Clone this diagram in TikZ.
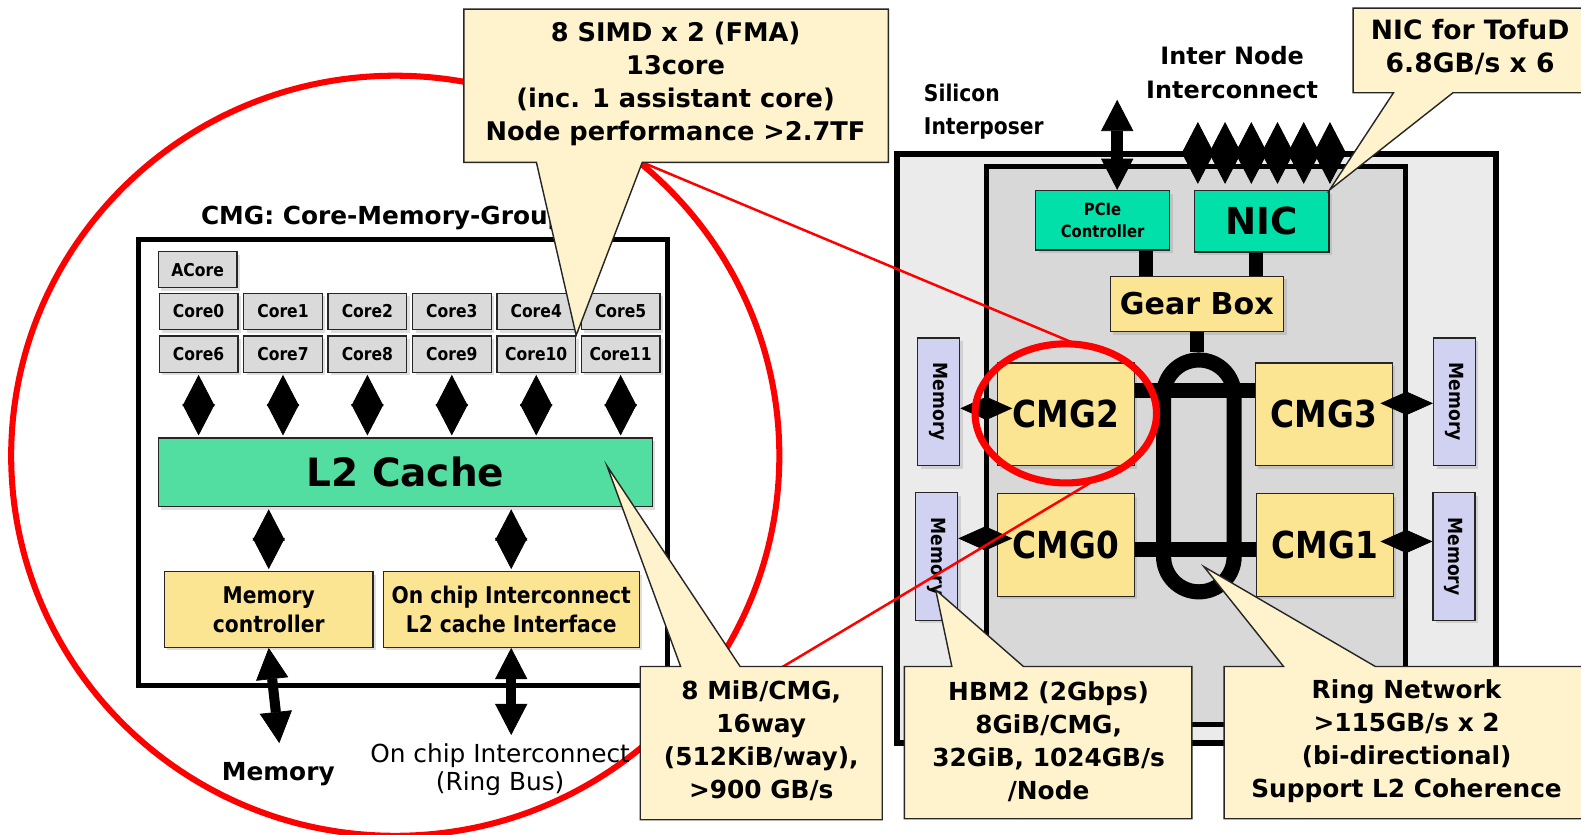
\documentclass[tikz,border=0pt]{standalone}
\usepackage{fontspec,graphicx}
\setmainfont{DejaVu Sans}
\newfontfamily\condfont{DejaVu Sans}[FakeStretch=0.88]
\usetikzlibrary{matrix, fit, arrows.meta, shadows}
\definecolor{corefill}{HTML}{DADADA}
\definecolor{l2fill}{HTML}{52DEA0}
\definecolor{nicfill}{HTML}{00E0A8}
\definecolor{yelfill}{HTML}{FCE592}
\definecolor{callfill}{HTML}{FEF3CC}
\definecolor{memfill}{HTML}{D1D1F1}
\definecolor{outfill}{HTML}{EBEBEB}
\definecolor{infill}{HTML}{D8D8D8}

\begin{document}
\begin{tikzpicture}[x=0.02cm, y=-0.02cm,
            dtip/.tip={Triangle[length=6.2mm, width=6.4mm, line width=0.4pt]},
            stip/.tip={Triangle[length=5.2mm, width=4.6mm, line width=0.4pt]},
            box/.style={draw=black!85, line width=0.7pt, inner sep=0pt, drop shadow={shadow xshift=0.6mm, shadow yshift=-0.6mm, opacity=0.25}},
            corebox/.style={box, fill=corefill, minimum width=15.6mm, minimum height=7.2mm, font=\condfont\bfseries\fontsize{10}{12}\selectfont},
            yelbox/.style={box, fill=yelfill, align=center},
            cmgbox/.style={yelbox, minimum width=27.2mm, minimum height=20.4mm, font=\condfont\bfseries\fontsize{21}{25}\selectfont},
            membox/.style={box, fill=memfill, minimum width=8.3mm, minimum height=25.3mm, font=\condfont\bfseries\fontsize{11}{13}\selectfont},
            diam/.style={line width=0.8pt, shorten <=0.4mm, shorten >=0.4mm, dtip-dtip},
            smalldiam/.style={line width=0.8pt, stip-stip},
            fatarr/.style={line width=2mm, dtip-dtip},
            bar/.style={line width=3mm},
            frame/.style={draw=black, line width=1mm},
            call/.style={draw=black!85, line width=0.8pt, fill=callfill},
            calltxt/.style={align=center, font=\bfseries\fontsize{14}{18.7}\selectfont},
            redline/.style={draw=red, line width=1.4pt}
            ]
            \clip (0,0) rectangle (1568,828);
            \fill[white] (0,0) rectangle (1568,828);
            \draw[red, line width=1.2mm] (392,452) ellipse [x radius=7.62cm, y radius=7.54cm];

            \draw[frame] (137,238) rectangle (662,680);
            \node[anchor=west, inner sep=0pt, font=\bfseries\fontsize{14}{17}\selectfont] (title) at (199,216) {CMG: Core-Memory-Group};
            \node[corebox] (acore) at (196,267.5) {ACore};
            \matrix [matrix of nodes, nodes={corebox}, column sep=0.9mm, row sep=1mm, anchor=north west, inner sep=0pt] (cores) at (157,290)
            {
                Core0 & Core1 & Core2 & Core3 & Core4 & Core5\\
                Core6 & Core7 & Core8 & Core9 & Core10 & Core11\\
            };
            \node[box, fill=l2fill, minimum width=98mm, minimum height=13.6mm, font=\bfseries\fontsize{22}{26}\selectfont] (l2) at (402,468.5) {L2 Cache};
            \node[yelbox, minimum width=41.4mm, minimum height=15mm, font=\condfont\bfseries\fontsize{13}{16.4}\selectfont] (memctl) at (266.5,604.5) {Memory\\controller};
            \node[yelbox, minimum width=50.8mm, minimum height=15mm, font=\condfont\bfseries\fontsize{13}{16.4}\selectfont] (onchip) at (507,604.5) {On chip Interconnect\\L2 cache Interface};
            \foreach \c in {1,...,6}
                \draw[diam] (cores-2-\c.south) -- (cores-2-\c.south |- l2.north);
            \draw[diam] (memctl.north |- l2.south) -- (memctl.north);
            \draw[diam] (onchip.north |- l2.south) -- (onchip.north);
            \node[font=\bfseries\fontsize{14}{17}\selectfont] (memlbl) at (276,768) {Memory};
            \node[align=center, font=\fontsize{14}{16}\selectfont] (ringlbl) at (496,763) {On chip Interconnect\\(Ring Bus)};
            \coordinate (memout) at (277,737);
            \coordinate (ringout) at (507,729);
            \draw[fatarr] (memctl.south) -- (memout);
            \draw[fatarr] (onchip.south) -- (onchip.south |- ringout);

            \draw[frame, fill=outfill, line width=1.2mm] (890,153) rectangle (1484,737);
            \draw[frame, fill=infill] (978,165) rectangle (1394,719);
            \node[anchor=west, align=left, inner sep=0pt, font=\condfont\bfseries\fontsize{13}{18.7}\selectfont] (silicon) at (916,111) {Silicon\\Interposer};
            \node[align=center, font=\bfseries\fontsize{13.5}{19.3}\selectfont] (inode) at (1222,72) {Inter Node\\Interconnect};
            \node[box, fill=nicfill, align=center, minimum width=26.6mm, minimum height=11.8mm, font=\condfont\bfseries\fontsize{9.5}{12}\selectfont] (pcie) at (1093.5,218.5) {PCIe\\Controller};
            \node[box, fill=nicfill, minimum width=26.6mm, minimum height=12.2mm, font=\bfseries\fontsize{21}{25}\selectfont] (nic) at (1251.5,219.5) {NIC};
            \node[yelbox, minimum width=34.4mm, minimum height=11mm, font=\bfseries\fontsize{17}{20}\selectfont] (gear) at (1187,301.5) {Gear Box};
            \node[draw, line width=3mm, rounded corners=7mm, minimum width=14mm, minimum height=46mm, inner sep=0pt] (ring) at (1189,472) {};
            \coordinate (pstem) at (1137,0);
            \coordinate (nstem) at (1246,0);
            \draw[line width=2.8mm] (pcie.south -| pstem) -- (gear.north -| pstem);
            \draw[line width=2.8mm] (nic.south -| nstem) -- (gear.north -| nstem);
            \draw[line width=2.8mm] (gear.south) -- (gear.south |- ring.north);
            \node[cmgbox] (cmg2) at (1057,411) {CMG2};
            \node[cmgbox] (cmg3) at (1313,411) {CMG3};
            \node[cmgbox] (cmg0) at (1057,540.5) {CMG0};
            \node[cmgbox] (cmg1) at (1314,540.5) {CMG1};
            \draw[bar] ([yshift=4.8mm]cmg2.east) -- ([yshift=4.8mm]cmg3.west);
            \draw[bar] ([yshift=-0.9mm]cmg0.east) -- ([yshift=-0.9mm]cmg1.west);
            \node[membox] (memA) at (931,398.5) {\rotatebox{-90}{Memory}};
            \node[membox] (memB) at (929,552) {\rotatebox{-90}{Memory}};
            \node[membox] (memC) at (1442.5,398.5) {\rotatebox{-90}{Memory}};
            \node[membox] (memD) at (1442,552) {\rotatebox{-90}{Memory}};
            \coordinate (pa) at (1004,405);
            \coordinate (pb) at (1004,534);
            \coordinate (pc) at (1369,400);
            \coordinate (pd) at (1369,537);
            \draw[smalldiam] (memA.east |- pa) -- (pa);
            \draw[smalldiam] (memB.east |- pb) -- (pb);
            \draw[smalldiam] (memC.west |- pc) -- (pc);
            \draw[smalldiam] (memD.west |- pd) -- (pd);
            \coordinate (pcieup) at (1108,99);
            \draw[fatarr, line width=2.4mm] (pcie.north -| pcieup) -- (pcieup);
            \foreach \x [count=\i] in {1188,1215,1241,1267,1293,1319} {
                \coordinate (link\i) at (\x,121);
                \draw[diam, shorten <=1.2mm, shorten >=0pt] (nic.north -| link\i) -- (link\i);
            }

            \draw[red, line width=1.4mm] (1057,410) ellipse [x radius=1.8cm, y radius=1.38cm];
            \draw[redline] (637,161) -- (1062,339);
            \draw[redline] (740,683) -- (1081,479);

            \draw[call] (460,9) -- (881,9) -- (881,161) -- (637,161) -- (cores-2-5.north east) -- (532,161) -- (460,161) -- cycle;
            \node[calltxt, font=\bfseries\fontsize{14.5}{18.7}\selectfont] (simd) at (670,83) {8 SIMD x 2 (FMA)\\13core\\(inc. 1 assistant core)\\Node performance >2.7TF};
            \coordinate (l2tip) at (602,462);
            \draw[call] (635,661) -- (675,661) -- (l2tip) -- (734,661) -- (875,661) -- (875,813) -- (635,813) -- cycle;
            \node[calltxt] (l2note) at (755,734.5) {8 MiB/CMG,\\16way\\(512KiB/way),\\>900 GB/s};
            \coordinate (hbmtip) at (928,585);
            \draw[call] (897,661) -- (944,661) -- (hbmtip) -- (1015,661) -- (1182,661) -- (1182,812) -- (897,812) -- cycle;
            \node[calltxt] (hbm) at (1040,735.5) {HBM2 (2Gbps)\\8GiB/CMG,\\32GiB, 1024GB/s\\/Node};
            \coordinate (ringtip) at (1194,562);
            \draw[call] (1214,661) -- (1273,661) -- (ringtip) -- (1364,661) -- (1600,661) -- (1600,812) -- (1214,812) -- cycle;
            \node[calltxt] (ringnote) at (1395,735) {Ring Network\\>115GB/s x 2\\(bi-directional)\\Support L2 Coherence};
            \draw[call] (1342,8) -- (1600,8) -- (1600,92) -- (1441,92) -- (nic.north east) -- (1382,92) -- (1342,92) -- cycle;
            \node[calltxt, font=\bfseries\fontsize{15}{18.7}\selectfont] (tofu) at (1458,46.5) {NIC for TofuD\\6.8GB/s x 6};
\end{tikzpicture}
\end{document}
